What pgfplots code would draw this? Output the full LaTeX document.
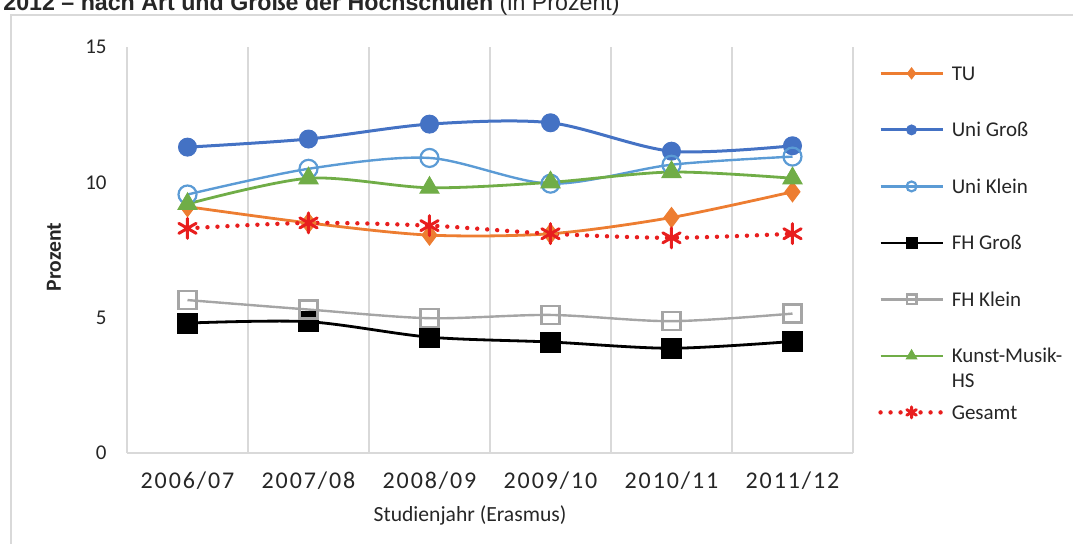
\documentclass[border=0pt]{standalone}
\usepackage{fontspec}
\setmainfont{Carlito}
\newfontfamily\arialfont{Liberation Sans}
\newfontfamily\spacedfont[LetterSpace=8]{Carlito}
\usepackage{pgfplots}
\pgfplotsset{compat=1.18}
\definecolor{cTU}{RGB}{237,125,49}
\definecolor{cUG}{RGB}{68,114,196}
\definecolor{cUK}{RGB}{91,155,213}
\definecolor{cFK}{RGB}{165,165,165}
\definecolor{cKM}{RGB}{112,173,71}
\definecolor{cGS}{RGB}{232,30,30}
\definecolor{gridgray}{RGB}{217,217,217}
\definecolor{txt}{RGB}{38,38,38}
\begin{document}
\begin{tikzpicture}[x=1pt,y=1pt]
\useasboundingbox (-63.5,-45.5) rectangle (473,226.5);
\draw[gray!30, line width=1.4pt] (-58,-46) -- (-58,219) -- (474,219);
\node[anchor=base west, inner sep=0, text=txt, font=\arialfont\fontsize{11.6}{13}\selectfont] at (-62,221) {\textbf{2012 – nach Art und Größe der Hochschulen} (in Prozent)};
\begin{axis}[
  at={(0,0)}, anchor=south west,
  scale only axis, width=363pt, height=203pt,
  xmin=-0.5, xmax=5.5, ymin=0, ymax=15,
  xtick={0,1,2,3,4,5},
  xticklabels={2006/07,2007/08,2008/09,2009/10,2010/11,2011/12},
  minor xtick={-0.5,0.5,1.5,2.5,3.5,4.5,5.5},
  xminorgrids=true,
  minor grid style={gridgray, line width=0.8pt},
  ytick={0,5,10,15},
  major tick length=0pt, minor tick length=0pt,
  axis x line*=bottom, axis y line*=left,
  x axis line style={draw=gridgray, line width=0.8pt},
  y axis line style={draw=none},
  /pgf/number format/assume math mode=true,
  xticklabel style={font=\spacedfont\fontsize{12}{14}\selectfont, text=txt, inner sep=0pt, anchor=north, yshift=-9pt},
  yticklabel style={font=\fontsize{10.5}{12}\selectfont, text=txt, inner sep=0pt, anchor=east, xshift=-10pt},
  xlabel={Studienjahr (Erasmus)},
  xlabel style={at={(axis description cs:0.4725,-0.1527)}, anchor=center, font=\fontsize{10.8}{12}\selectfont, text=txt},
  ylabel={\textbf{Prozent}},
  ylabel style={at={(axis description cs:-0.1006,0.483)}, anchor=center, rotate=0, font=\fontsize{10.8}{12}\selectfont, text=txt},
  legend cell align=left,
  legend image code/.code={\draw[mark repeat=2,mark phase=2,/tikz/every mark/.append style={scale=0.55}] plot coordinates {(0pt,0pt) (15.5pt,0pt) (31pt,0pt)};},
  legend style={draw=none, fill=none, at={(1.0344,0.9704)}, anchor=north west, inner sep=0pt,
    row sep=14.25pt, font=\fontsize{10.5}{12.5}\selectfont, text=txt,
    nodes={inner xsep=3.5pt, inner ysep=0pt, text height=8pt, text depth=1pt, minimum height=14pt}},
  every axis plot/.append style={smooth, tension=0.5},
]
\addplot[cTU, line width=1.4pt, mark=diamond*, mark size=5pt, mark options={fill=cTU, draw=cTU, line width=0.5pt}]
  coordinates {(0,9.1) (1,8.5) (2,8.05) (3,8.1) (4,8.7) (5,9.65)};
\addlegendentry{TU}
\addplot[cUG, line width=1.5pt, mark=*, mark size=4.5pt, mark options={fill=cUG, draw=cUG, line width=0.5pt}]
  coordinates {(0,11.3) (1,11.6) (2,12.15) (3,12.2) (4,11.15) (5,11.35)};
\addlegendentry{Uni Groß}
\addplot[cUK, line width=1.2pt, mark=o, mark size=4.5pt, mark options={fill=white, draw=cUK, line width=1.1pt}]
  coordinates {(0,9.55) (1,10.5) (2,10.9) (3,9.95) (4,10.65) (5,10.95)};
\addlegendentry{Uni Klein}
\addplot[black, line width=1.4pt, mark=square*, mark size=5pt, mark options={fill=black, draw=black, line width=0.5pt}]
  coordinates {(0,4.8) (1,4.85) (2,4.28) (3,4.1) (4,3.87) (5,4.12)};
\addlegendentry{FH Groß}
\addplot[cFK, line width=1.2pt, mark=square, mark size=4.5pt, mark options={fill=white, draw=cFK, line width=1.1pt}]
  coordinates {(0,5.65) (1,5.3) (2,4.98) (3,5.1) (4,4.87) (5,5.15)};
\addlegendentry{FH Klein}
\addplot[cKM, line width=1.4pt, mark=triangle*, mark size=5.5pt, mark options={fill=cKM, draw=cKM, line width=0.5pt}]
  coordinates {(0,9.2) (1,10.15) (2,9.8) (3,10.0) (4,10.38) (5,10.15)};
\addlegendentry{\begin{tabular}[t]{@{}l@{}}Kunst-Musik-\\[0pt]HS\end{tabular}}
\addplot[cGS, line width=2.2pt, line cap=round, dash pattern=on 0pt off 5pt, mark=asterisk, mark size=5pt, mark options={solid, draw=cGS, line width=1.5pt}]
  coordinates {(0,8.3) (1,8.5) (2,8.4) (3,8.1) (4,7.95) (5,8.1)};
\addlegendentry{Gesamt}
\end{axis}
\end{tikzpicture}
\end{document}
